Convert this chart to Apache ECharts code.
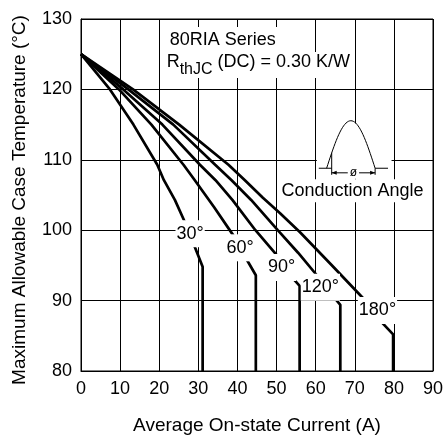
<!DOCTYPE html>
<html><head><meta charset="utf-8">
<script src="https://cdn.jsdelivr.net/npm/echarts@6/dist/echarts.min.js"></script>
<style>html,body{margin:0;padding:0;background:#fff}#c{width:445px;height:439px}</style>
</head><body><div id="c"></div>
<script>
// ---- data ----
const xTickValues = [0,10,20,30,40,50,60,70,80,90];
const yTickValues = [80,90,100,110,120,130];
const angleLabels = ['30°','60°','90°','120°','180°'];
const curve30  = [[0,125],[7.4,120],[13.4,115],[19.5,109.3],[21.2,107.1],[24,104.3],[26.6,101.1],[29.1,97.6],[31.1,94.8],[31.1,80]];
const curve60  = [[0,125],[9.7,120],[18,115],[26.2,109.3],[29.1,107.1],[34,103.3],[38.9,99.3],[42.4,95.8],[44.7,93.6],[44.7,80]];
const curve90  = [[0,125],[10.8,120],[20.8,115],[30.4,109.3],[34.4,107.1],[38.7,104.3],[44.6,100],[50,96.5],[54.3,93.1],[55.9,92.1],[55.9,80]];
const curve120 = [[0,125],[12.1,120],[23.6,115],[34.3,109.3],[38.5,107.1],[43.5,104.3],[50.3,100],[55.5,96.8],[60.3,93.6],[65.4,90],[66.3,89.4],[66.3,80]];
const curve180 = [[0,125],[13.3,120],[25.1,115],[37.7,109.3],[41.9,107.1],[46.5,104.6],[50.9,102.4],[56,99.7],[64,95.1],[72.2,90.3],[76.9,86.9],[79.8,85.2],[79.8,80]];
const labelX = [27.9,40.7,51.3,61.2,75.8];
const labelY = [99.5,97.5,94.7,91.9,88.6];
const titleLine1 = '80RIA Series';
const titleR = 'R', titleSub = 'thJC', titleRest = ' (DC) = 0.30 K/W';
const conductionText = 'Conduction Angle';
// ---------------------------------------

const FONT = '"Liberation Sans", Arial, Helvetica, sans-serif';
const curves = [curve30, curve60, curve90, curve120, curve180];
const chart = echarts.init(document.getElementById('c'), null, {renderer:'canvas'});

const series = curves.map((d,i)=>({
  type:'line', name:angleLabels[i], data:d, showSymbol:false, symbol:'none',
  lineStyle:{color:'#000', width:2.7}, z:3, animation:false
}));

chart.setOption({
  animation:false,
  backgroundColor:'#fff',
  grid:{left:81, top:19, width:352, height:352, show:true, borderColor:'#000', borderWidth:1,
    containLabel:false, outerBoundsMode:'none'},
  xAxis:{type:'value', min:xTickValues[0], max:xTickValues[xTickValues.length-1], interval:10,
    axisLine:{show:true, lineStyle:{color:'#000'}}, axisTick:{show:false},
    splitLine:{show:true, lineStyle:{color:'#000', width:1}},
    axisLabel:{color:'#000', fontSize:18, fontFamily:FONT, margin:9},
    name:'Average On-state Current (A)', nameLocation:'middle', nameGap:45, nameMoveOverlap:false,
    nameTextStyle:{color:'#000', fontSize:19, fontFamily:FONT}},
  yAxis:{type:'value', min:yTickValues[0], max:yTickValues[yTickValues.length-1], interval:10,
    axisLine:{show:true, lineStyle:{color:'#000'}}, axisTick:{show:false},
    splitLine:{show:true, lineStyle:{color:'#000', width:1}},
    axisLabel:{color:'#000', fontSize:18, fontFamily:FONT, margin:9},
    name:'Maximum Allowable Case Temperature (°C)', nameLocation:'middle', nameGap:52, nameMoveOverlap:false,
    nameTextStyle:{color:'#000', fontSize:19, fontFamily:FONT, padding:[0,10,0,0]}},
  series:series
});

// annotations positioned through the chart's own scales
const P = (x,y)=>chart.convertToPixel({gridIndex:0},[x,y]);
const cv = document.createElement('canvas').getContext('2d');
function tw(t,size){ cv.font = size+'px '+FONT; return cv.measureText(t).width; }

const g = [];
angleLabels.forEach((t,i)=>{
  const p = P(labelX[i], labelY[i]);
  g.push({type:'text', z:100, style:{text:t, x:p[0], y:p[1], fill:'#000', font:'18px '+FONT,
    align:'center', verticalAlign:'middle', backgroundColor:'#fff', padding:[5,1,4,1]}});
});

const a1 = P(21.9,127.0);
g.push({type:'text', z:100, style:{text:titleLine1, x:a1[0], y:a1[1], fill:'#000', font:'18px '+FONT,
  verticalAlign:'middle', align:'left', backgroundColor:'#fff', padding:[4,3,4,3]}});
const a2 = P(21.9,123.9);
const wR = tw(titleR,18), wS = tw(titleSub,16);
g.push({type:'rect', z:99, shape:{x:a2[0]-3, y:a2[1]-10, width:wR+wS+tw(titleRest,18)+6, height:26}, style:{fill:'#fff'}});
g.push({type:'text', z:100, style:{text:titleR, x:a2[0], y:a2[1], fill:'#000', font:'18px '+FONT, verticalAlign:'middle', align:'left'}});
g.push({type:'text', z:100, style:{text:titleSub, x:a2[0]+wR, y:a2[1]+7.5, fill:'#000', font:'16px '+FONT, verticalAlign:'middle', align:'left'}});
g.push({type:'text', z:100, style:{text:titleRest, x:a2[0]+wR+wS, y:a2[1], fill:'#000', font:'18px '+FONT, verticalAlign:'middle', align:'left'}});

const c1 = P(69.4,105.6);
g.push({type:'text', z:100, style:{text:conductionText, x:c1[0], y:c1[1], fill:'#000', font:'18px '+FONT,
  verticalAlign:'middle', align:'center', backgroundColor:'#fff', padding:[3,2,2,2]}});

// waveform icon
const r0 = P(60.3,115.2), r1 = P(79.4,108.3);
g.push({type:'rect', z:95, shape:{x:r0[0], y:r0[1], width:r1[0]-r0[0], height:r1[1]-r0[1]}, style:{fill:'#fff'}});
const base = 108.8, peak = 115.55, xa = 62.8, xb = 75.2, xf = 64.1;
const arch = [];
for (let i=0;i<=40;i++){ const t=i/40; arch.push(P(xa+(xb-xa)*t, base+(peak-base)*Math.sin(Math.PI*t))); }
g.push({type:'polyline', z:96, shape:{points:arch}, style:{stroke:'#000', lineWidth:1, fill:null}});
const bl0 = P(60.8,base), bl1 = P(xf,base), br0 = P(xb,base), br1 = P(78.5,base);
g.push({type:'line', z:96, shape:{x1:bl0[0],y1:bl0[1],x2:bl1[0],y2:bl1[1]}, style:{stroke:'#000',lineWidth:1}});
g.push({type:'line', z:96, shape:{x1:br0[0],y1:br0[1],x2:br1[0],y2:br1[1]}, style:{stroke:'#000',lineWidth:1}});
const tf = (xf-xa)/(xb-xa);
const fTop = P(xf, base+(peak-base)*Math.sin(Math.PI*tf));
const arrY = P(xf,108.15)[1];
g.push({type:'line', z:96, shape:{x1:fTop[0],y1:fTop[1],x2:fTop[0],y2:arrY+2}, style:{stroke:'#000',lineWidth:1}});
g.push({type:'line', z:96, shape:{x1:br0[0],y1:br0[1],x2:br0[0],y2:arrY+2}, style:{stroke:'#000',lineWidth:1}});
g.push({type:'line', z:96, shape:{x1:fTop[0],y1:arrY,x2:br0[0],y2:arrY}, style:{stroke:'#000',lineWidth:1}});
g.push({type:'polygon', z:96, shape:{points:[[fTop[0],arrY],[fTop[0]+5,arrY-2],[fTop[0]+5,arrY+2]]}, style:{fill:'#000'}});
g.push({type:'polygon', z:96, shape:{points:[[br0[0],arrY],[br0[0]-5,arrY-2],[br0[0]-5,arrY+2]]}, style:{fill:'#000'}});
g.push({type:'text', z:97, style:{text:'ø', x:(fTop[0]+br0[0])/2, y:arrY, fill:'#000', font:'12px '+FONT,
  align:'center', verticalAlign:'middle', backgroundColor:'#fff', padding:[0,2,0,2]}});

chart.setOption({graphic:g});
</script></body></html>
